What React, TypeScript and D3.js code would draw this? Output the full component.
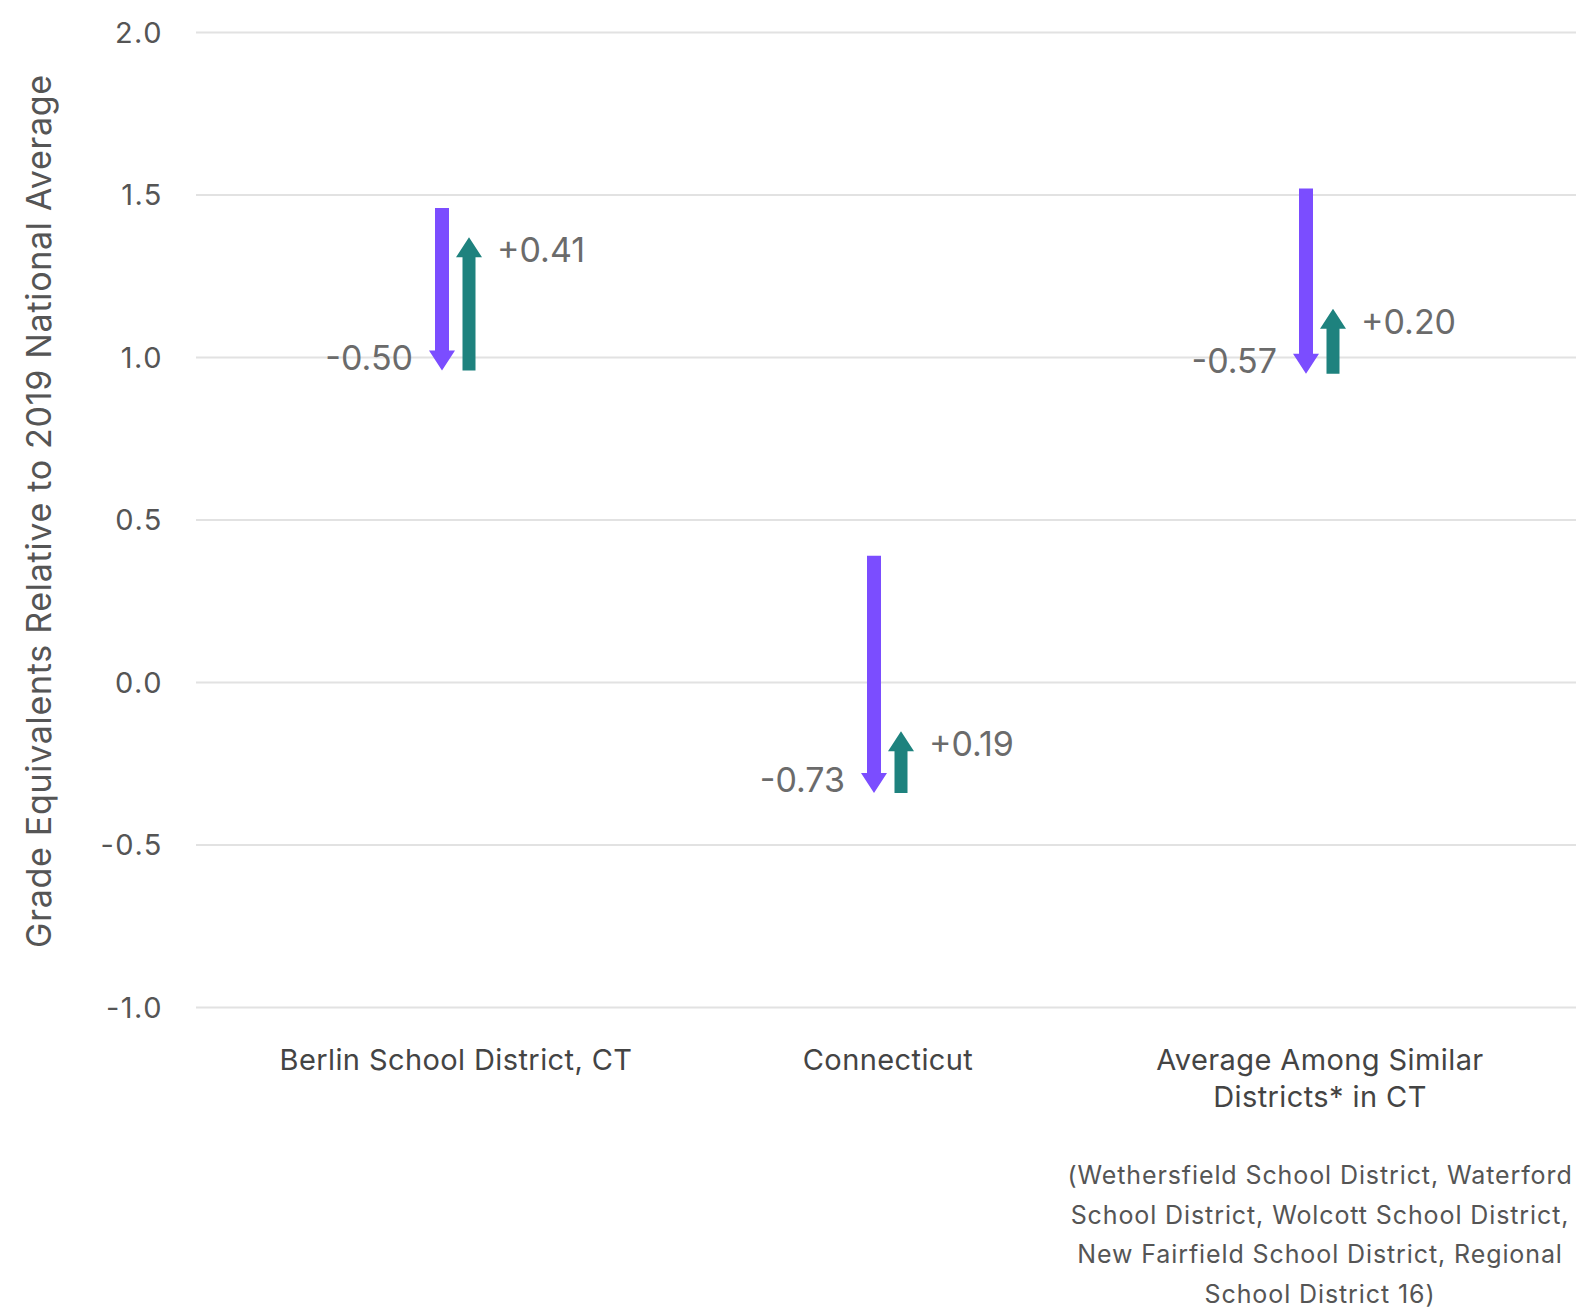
import * as d3 from "d3";

const categoryLines: string[][] = [
  ["Berlin School District, CT"],
  ["Connecticut"],
  ["Average Among Similar", "Districts* in CT"],
];
const startValues = [1.46, 0.39, 1.52];
const declines = [-0.5, -0.73, -0.57];
const recoveries = [0.41, 0.19, 0.2];
const yTicks = [-1, -0.5, 0, 0.5, 1, 1.5, 2];
const footnoteLines = [
  "(Wethersfield School District, Waterford",
  "School District, Wolcott School District,",
  "New Fairfield School District, Regional",
  "School District 16)",
];

const W = 1576;
const H = 1312;
const FONT = "Inter, 'Noto Sans', sans-serif";
const PURPLE = "#7B4DFF";
const TEAL = "#1E827E";

const y = d3.scaleLinear().domain([-1, 2]).range([1007.5, 32.5]);
const x = d3
  .scaleBand<number>()
  .domain(categoryLines.map((_, i) => i))
  .range([240, 1536]);

// arrow from y0 to tip y1 (direction follows the sign)
function arrowPath(cx: number, y0: number, y1: number, shaft: number, head: number, headLen: number): string {
  const dir = y1 > y0 ? 1 : -1;
  const base = y1 - dir * headLen;
  const p = d3.path();
  p.moveTo(cx - shaft / 2, y0);
  p.lineTo(cx + shaft / 2, y0);
  p.lineTo(cx + shaft / 2, base);
  p.lineTo(cx + head / 2, base);
  p.lineTo(cx, y1);
  p.lineTo(cx - head / 2, base);
  p.lineTo(cx - shaft / 2, base);
  p.closePath();
  return p.toString();
}

const fmt = (v: number) => (v > 0 ? "+" : "") + v.toFixed(2);

export default function App() {
  const plotLeft = 196;
  const fx = (x(2) ?? 0) + x.bandwidth() / 2;
  return (
    <div>
      <style>{`body{margin:0;background:#fff}`}</style>
      <svg width={W} height={H} style={{ display: "block", fontFamily: FONT }}>
        {/* gridlines + tick labels */}
        {yTicks.map((t) => (
          <g key={t}>
            <line x1={plotLeft} x2={W} y1={y(t)} y2={y(t)} stroke="#e2e2e2" strokeWidth={2} />
            <text x={163} y={y(t)} dy="0.36em" textAnchor="end" fontSize={29} letterSpacing={1.5} fill="#555">
              {t.toFixed(1)}
            </text>
          </g>
        ))}

        {/* y axis title */}
        <text
          transform={`translate(51, 511) rotate(-90)`}
          textAnchor="middle"
          fontSize={34}
          letterSpacing={0.7}
          fill="#555"
        >
          Grade Equivalents Relative to 2019 National Average
        </text>

        {/* arrows */}
        {startValues.map((s, i) => {
          const cx = (x(i) ?? 0) + x.bandwidth() / 2;
          const mid = s + declines[i];
          const end = mid + recoveries[i];
          const px = cx - 14;
          const tx = cx + 13;
          return (
            <g key={i}>
              <path d={arrowPath(px, y(s), y(mid), 14, 26, 20)} fill={PURPLE} />
              <path d={arrowPath(tx, y(mid), y(end), 13, 26, 20)} fill={TEAL} />
              <text x={px - 29} y={y(mid) - 1} textAnchor="end" fontSize={34} fill="#6b6b6b">
                {fmt(declines[i])}
              </text>
              <text x={tx + 28} y={y(end) + 25} textAnchor="start" fontSize={34} fill="#6b6b6b">
                {fmt(recoveries[i])}
              </text>
            </g>
          );
        })}

        {/* category labels */}
        {categoryLines.map((lines, i) => {
          const cx = (x(i) ?? 0) + x.bandwidth() / 2;
          return (
            <text key={i} x={cx} y={1070} textAnchor="middle" fontSize={29} letterSpacing={0.4} fill="#444">
              {lines.map((l, j) => (
                <tspan key={j} x={cx} dy={j === 0 ? 0 : 37}>
                  {l}
                </tspan>
              ))}
            </text>
          );
        })}

        {/* footnote */}
        <text x={fx} y={1184} textAnchor="middle" fontSize={25} letterSpacing={0.9} fill="#555">
          {footnoteLines.map((l, j) => (
            <tspan key={j} x={fx} dy={j === 0 ? 0 : 39.5}>
              {l}
            </tspan>
          ))}
        </text>
      </svg>
    </div>
  );
}
